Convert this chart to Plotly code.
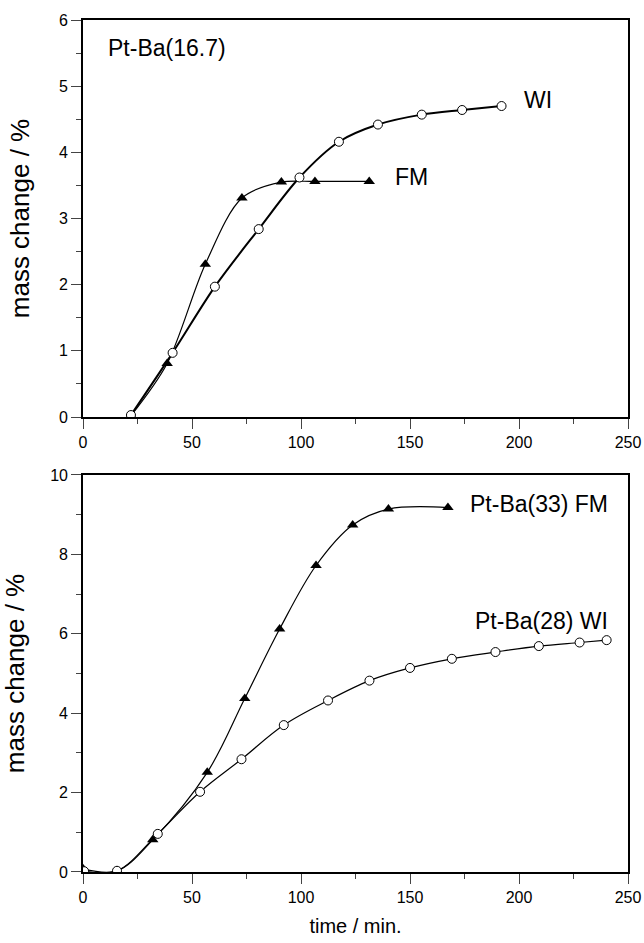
import plotly.graph_objects as go

# ---- data ----
top_wi_t = [22, 41.1, 60.5, 80.6, 99.3, 117.4, 135.3, 155.4, 173.9, 192.0]
top_wi_m = [0.03, 0.97, 1.97, 2.84, 3.62, 4.16, 4.42, 4.57, 4.64, 4.70]

top_fm_t = [22, 38.6, 56.1, 72.9, 91.0, 106.4, 131.3]
top_fm_m = [0.02, 0.81, 2.31, 3.31, 3.55, 3.56, 3.56]

bot_fm_t = [0, 15.6, 32.0, 57.0, 74.2, 90.2, 106.9, 123.7, 140.1, 167.4]
bot_fm_m = [0.08, 0.03, 0.81, 2.51, 4.37, 6.12, 7.72, 8.74, 9.14, 9.18]

bot_wi_t = [0.5, 15.6, 34.3, 53.7, 72.7, 92.1, 112.4, 131.4, 150.0, 169.2, 189.2, 209.1, 227.8, 240.2]
bot_wi_m = [0.02, 0.03, 0.96, 2.02, 2.84, 3.70, 4.32, 4.82, 5.14, 5.37, 5.54, 5.69, 5.78, 5.84]

x_ticks = [0, 50, 100, 150, 200, 250]
top_y_ticks = [0, 1, 2, 3, 4, 5, 6]
bot_y_ticks = [0, 2, 4, 6, 8, 10]

FONT = "Liberation Sans, Arial, sans-serif"

fig = go.Figure()

# top panel
fig.add_trace(go.Scatter(
    x=top_fm_t, y=top_fm_m, mode="lines+markers", xaxis="x", yaxis="y",
    line=dict(color="black", width=1.2, shape="spline", smoothing=0.9),
    marker=dict(symbol="triangle-up", size=10, color="black"),
    showlegend=False))
fig.add_trace(go.Scatter(
    x=top_wi_t, y=top_wi_m, mode="lines+markers", xaxis="x", yaxis="y",
    line=dict(color="black", width=2, shape="spline", smoothing=0.9),
    marker=dict(symbol="circle", size=9, color="white", line=dict(color="black", width=1)),
    showlegend=False))

# bottom panel
fig.add_trace(go.Scatter(
    x=bot_fm_t, y=bot_fm_m, mode="lines+markers", xaxis="x2", yaxis="y2",
    line=dict(color="black", width=1.2, shape="spline", smoothing=1),
    marker=dict(symbol="triangle-up", size=10, color="black"),
    showlegend=False))
fig.add_trace(go.Scatter(
    x=bot_wi_t, y=bot_wi_m, mode="lines+markers", xaxis="x2", yaxis="y2",
    line=dict(color="black", width=1.2, shape="spline", smoothing=1),
    marker=dict(symbol="circle", size=9, color="white", line=dict(color="black", width=1)),
    showlegend=False))

def xax(anchor, title=None):
    d = dict(range=[0, 250], tickvals=x_ticks, ticks="outside", ticklen=10, tickwidth=1.3,
             showline=True, linecolor="black", linewidth=1.6, mirror=True,
             showgrid=False, zeroline=False, anchor=anchor, automargin=False,
             tickfont=dict(family=FONT, size=16, color="black"),
             minor=dict(ticks="outside", ticklen=5, tickwidth=1.3, dtick=25, tick0=0, showgrid=False),
             domain=[0, 1])
    if title:
        d["title"] = dict(text=title, font=dict(family=FONT, size=20, color="black"), standoff=14)
    return d

def yax(anchor, rng, tv, minor_dtick, domain):
    return dict(range=rng, tickvals=tv, ticks="outside", ticklen=10, tickwidth=1.3,
                showline=True, linecolor="black", linewidth=1.6, mirror=True,
                showgrid=False, zeroline=False, anchor=anchor, domain=domain, automargin=False,
                tickfont=dict(family=FONT, size=16, color="black"),
                minor=dict(ticks="outside", ticklen=5, tickwidth=1.3, dtick=minor_dtick, tick0=0, showgrid=False),
                title=dict(text="mass change / %", font=dict(family=FONT, size=26, color="black"), standoff=22))

fig.update_layout(
    width=644, height=943,
    margin=dict(l=83, r=16, t=20, b=71),
    plot_bgcolor="white", paper_bgcolor="white",
    xaxis=xax("y"),
    yaxis=yax("x", [0, 6], top_y_ticks, 0.5, [0.534, 1]),
    xaxis2=xax("y2", "time / min."),
    yaxis2=yax("x2", [0, 10], bot_y_ticks, 1, [0, 0.466]),
    font=dict(family=FONT, color="black"),
)

ann_font = dict(family=FONT, size=23, color="black")
annotations = [
    dict(text="Pt-Ba(16.7)", x=10.5, y=5.58, xref="x", yref="y", xanchor="left", yanchor="middle"),
    dict(text="WI", x=201.4, y=4.79, xref="x", yref="y", xanchor="left", yanchor="middle"),
    dict(text="FM", x=142.4, y=3.63, xref="x", yref="y", xanchor="left", yanchor="middle"),
    dict(text="Pt-Ba(33) FM", x=176.6, y=9.28, xref="x2", yref="y2", xanchor="left", yanchor="middle"),
    dict(text="Pt-Ba(28) WI", x=178.9, y=6.31, xref="x2", yref="y2", xanchor="left", yanchor="middle"),
]
for a in annotations:
    fig.add_annotation(showarrow=False, font=ann_font, **a)

fig.write_html("out.html")
